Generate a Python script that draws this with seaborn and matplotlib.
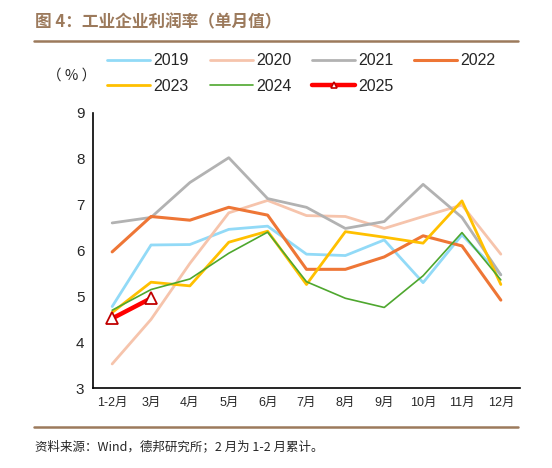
import matplotlib
matplotlib.use("Agg")
import matplotlib.pyplot as plt
from matplotlib.lines import Line2D
import pandas as pd
import seaborn as sns

months = ["1-2月", "3月", "4月", "5月", "6月", "7月", "8月", "9月", "10月", "11月", "12月"]
y2019 = [4.78, 6.12, 6.13, 6.46, 6.53, 5.92, 5.89, 6.23, 5.30, 6.34, 5.47]
y2020 = [3.53, 4.50, 5.72, 6.82, 7.09, 6.76, 6.74, 6.48, 6.74, 6.99, 5.92]
y2021 = [6.60, 6.72, 7.48, 8.02, 7.13, 6.94, 6.48, 6.63, 7.44, 6.72, 5.47]
y2022 = [5.97, 6.74, 6.66, 6.94, 6.77, 5.59, 5.59, 5.86, 6.32, 6.10, 4.92]
y2023 = [4.65, 5.31, 5.23, 6.18, 6.42, 5.26, 6.41, 6.29, 6.16, 7.08, 5.26]
y2024 = [4.70, 5.15, 5.38, 5.94, 6.40, 5.32, 4.96, 4.76, 5.45, 6.39, 5.36]
y2025 = [4.52, 4.96]

series = {"2019": y2019, "2020": y2020, "2021": y2021, "2022": y2022,
          "2023": y2023, "2024": y2024, "2025": y2025}
colors = {"2019": "#92daf7", "2020": "#f6c4ac", "2021": "#b2b2b2", "2022": "#ee7636",
          "2023": "#ffc000", "2024": "#4ea72e", "2025": "#ff0000"}
widths = {"2019": 2.0, "2020": 2.0, "2021": 2.0, "2022": 2.2,
          "2023": 2.0, "2024": 1.2, "2025": 3.2}

sns.set_style("white")
plt.rcParams["font.family"] = ["Liberation Sans", "Noto Sans CJK SC", "DejaVu Sans"]

fig = plt.figure(figsize=(5.52, 4.68), dpi=100)
ax = fig.add_axes([0.168, 0.1703, 0.7745, 0.5889])

handles = {}
for yr, vals in series.items():
    df = pd.DataFrame({"month": months[:len(vals)], "v": vals})
    if yr == "2025":
        sns.lineplot(data=df, x="month", y="v", ax=ax, color=colors[yr], lw=widths[yr],
                     marker="^", markersize=8, markerfacecolor="white",
                     markeredgecolor="#c00000", markeredgewidth=1.3, sort=False, zorder=5)
        handles[yr] = Line2D([], [], color=colors[yr], lw=widths[yr], marker="^",
                             markersize=5, markerfacecolor="white",
                             markeredgecolor="#c00000", markeredgewidth=1.2)
    else:
        sns.lineplot(data=df, x="month", y="v", ax=ax, color=colors[yr], lw=widths[yr],
                     sort=False)
        handles[yr] = Line2D([], [], color=colors[yr], lw=widths[yr])

ax.set_ylim(3, 9)
ax.set_xlim(-0.5, 10.5)
ax.set_yticks(range(3, 10))
ax.set_xlabel("")
ax.set_ylabel("")
ax.set_xticks(range(len(months)))
ax.set_xticklabels(months, family=["Liberation Sans", "Noto Sans CJK SC"])
ax.set_xticks([i - 0.5 for i in range(len(months) + 1)], minor=True)
ax.tick_params(axis="x", which="major", length=0, labelsize=9, pad=6)
ax.tick_params(axis="x", which="minor", length=4, width=1, direction="out", color="black")
ax.tick_params(axis="y", length=4, width=1, direction="out", color="black", labelsize=11, pad=2)
for s in ["top", "right"]:
    ax.spines[s].set_visible(False)
for s in ["left", "bottom"]:
    ax.spines[s].set_color("black")
    ax.spines[s].set_linewidth(1.2)

order = ["2019", "2023", "2020", "2024", "2021", "2025", "2022"]
fig.legend([handles[k] for k in order], order, ncol=4, loc="upper left",
           bbox_to_anchor=(0.194, 0.886), frameon=False, fontsize=11.5,
           handlelength=2.7, handletextpad=0.2, columnspacing=1.3, labelspacing=0.65,
           borderaxespad=0, borderpad=0)

brown = "#9c7a5c"
fig.text(35 / 552, 1 - 22 / 468, "图 4：工业企业利润率（单月值）", color=brown,
         fontsize=12, fontweight="bold", va="center", ha="left",
         family=["Noto Sans CJK SC", "DejaVu Sans"])
fig.add_artist(Line2D([34 / 552, 518 / 552], [1 - 41 / 468] * 2, color=brown, lw=1.8,
                      transform=fig.transFigure))
fig.add_artist(Line2D([34 / 552, 518 / 552], [1 - 427 / 468] * 2, color=brown, lw=1.8,
                      transform=fig.transFigure))
fig.text(72 / 552, 1 - 76 / 468, "（ % ）", fontsize=10.5, ha="center", va="center",
         family=["Noto Sans CJK SC", "DejaVu Sans"])
fig.text(35 / 552, 1 - 447 / 468, "资料来源：Wind，德邦研究所；2 月为 1-2 月累计。",
         fontsize=9, ha="left", va="center", family=["Noto Sans CJK SC", "DejaVu Sans"])

fig.savefig("out.png", dpi=100)
